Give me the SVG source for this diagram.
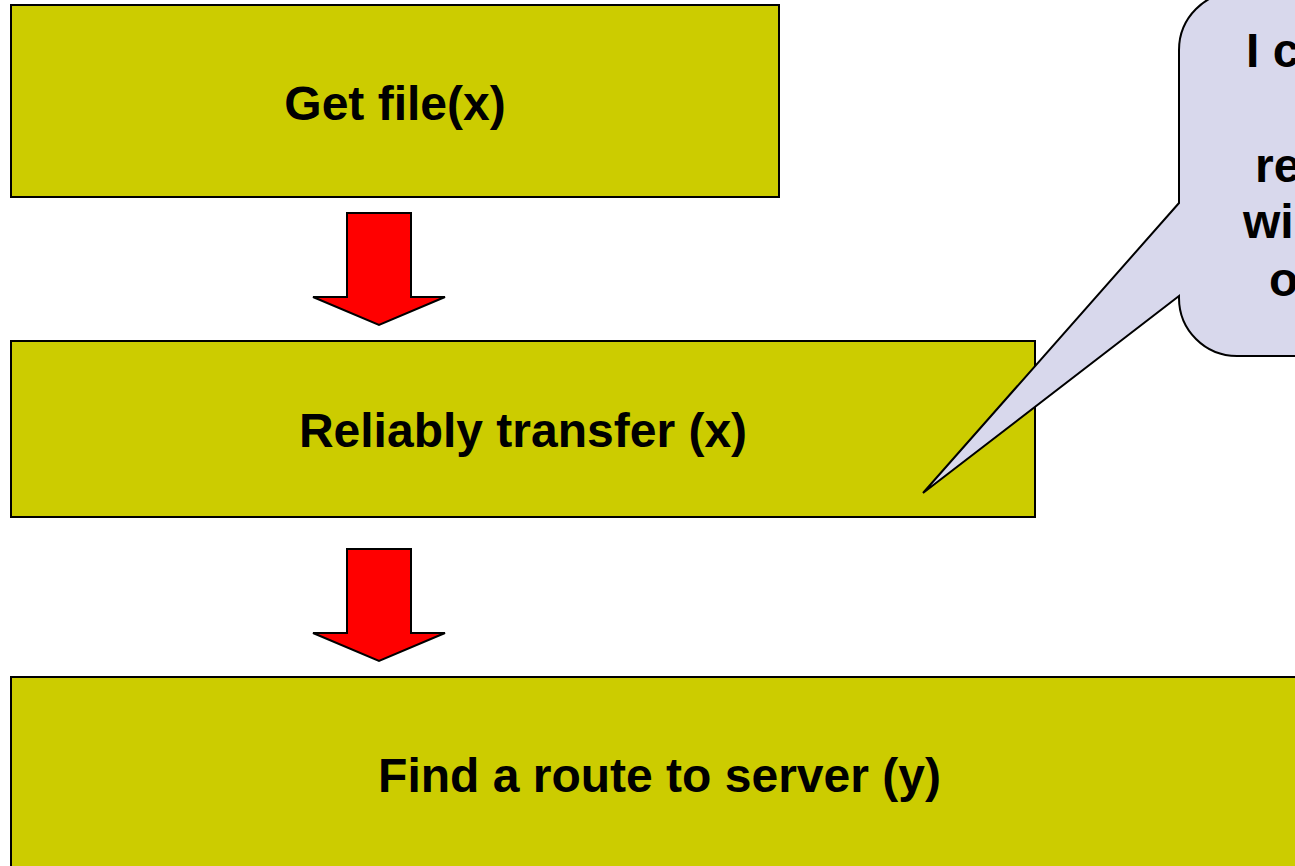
<svg xmlns="http://www.w3.org/2000/svg" width="1295" height="866" viewBox="0 0 1295 866">
  <style>
    .box { fill: #CCCC00; stroke: #000; stroke-width: 2; }
    .label { font-family: "Liberation Sans", Arial, sans-serif; font-weight: bold; font-size: 48px; fill: #000; }
    .arrow { fill: #FF0000; stroke: #000; stroke-width: 2; stroke-linejoin: miter; }
    .callout { fill: #D8D8EC; stroke: #000; stroke-width: 2; stroke-linejoin: miter; }
  </style>
  <rect width="1295" height="866" fill="#FFFFFF"/>

  <g id="node-get-file">
    <rect class="box" x="11" y="5" width="768" height="192"/>
    <text class="label" x="395" y="120" text-anchor="middle">Get file(x)</text>
  </g>

  <g id="node-reliably-transfer">
    <rect class="box" x="11" y="341" width="1024" height="176"/>
    <text class="label" x="523" y="447" text-anchor="middle">Reliably transfer (x)</text>
  </g>

  <g id="node-find-route">
    <rect class="box" x="11" y="677" width="1297" height="192"/>
    <text class="label" x="659.5" y="792" text-anchor="middle">Find a route to server (y)</text>
  </g>

  <g id="connectors">
    <path class="arrow" d="M347,213 L411,213 L411,297 L445,297 L379,325 L313,297 L347,297 Z"/>
    <path class="arrow" d="M347,549 L411,549 L411,633 L445,633 L379,661 L313,633 L347,633 Z"/>
  </g>

  <g id="callout">
    <path class="callout" d="M1179,203 L923,493 L1179,296 L1179,298 A58,58 0 0 0 1237,356 L1320,356 L1320,-8 L1237,-8 A58,58 0 0 0 1179,50 Z"/>
    <text class="label" x="1246" y="67">I c</text>
    <text class="label" x="1255" y="182">re</text>
    <text class="label" x="1243" y="238">wi</text>
    <text class="label" x="1269" y="296">o</text>
  </g>
</svg>
